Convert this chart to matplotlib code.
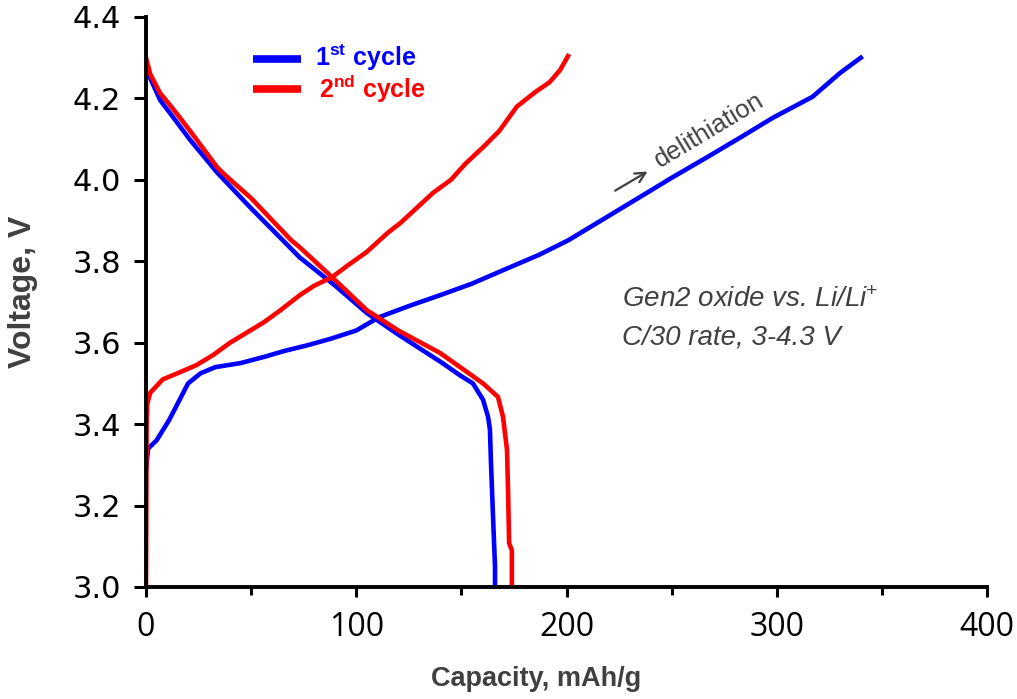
import matplotlib
matplotlib.use("Agg")
import matplotlib.pyplot as plt

plt.rcParams['mathtext.fontset'] = 'custom'
plt.rcParams['mathtext.rm'] = 'Liberation Sans'
plt.rcParams['mathtext.it'] = 'Liberation Sans:italic'
plt.rcParams['mathtext.bf'] = 'Liberation Sans:bold'

# 1st cycle, charge (delithiation)
cap1_ch = [0, 1, 5, 11, 15, 20, 26, 33, 45, 56, 66, 77, 88, 100, 111, 125, 140,
           155, 168, 187, 201, 218, 235, 250, 267, 283, 298, 317, 330, 336, 340]
v1_ch = [3.29, 3.34, 3.36, 3.41, 3.45, 3.50, 3.525, 3.54, 3.55, 3.565, 3.58, 3.594,
         3.61, 3.63, 3.663, 3.69, 3.717, 3.745, 3.774, 3.816, 3.852, 3.905, 3.958,
         4.005, 4.056, 4.105, 4.152, 4.204, 4.262, 4.285, 4.30]

# 1st cycle, discharge
cap1_dis = [0, 2, 6.7, 12, 21, 34, 50, 65, 73, 90, 105, 120, 141, 149.3, 155.5,
            160.3, 162.7, 163.6, 164, 165, 166, 166]
v1_dis = [4.277, 4.25, 4.196, 4.16, 4.098, 4.017, 3.93, 3.852, 3.81, 3.74, 3.673,
          3.62, 3.55, 3.52, 3.50, 3.46, 3.418, 3.386, 3.317, 3.18, 3.05, 3.0]

# 2nd cycle, charge
cap2_ch = [0, 0.3, 0.6, 2, 8, 15, 24, 32, 40, 48, 56, 64, 73.2, 80, 88.5, 96, 105,
           115, 121, 136.5, 145, 152, 160.3, 168, 176.4, 185, 192, 197, 200.7]
v2_ch = [3.0, 3.40, 3.45, 3.477, 3.51, 3.525, 3.545, 3.57, 3.60, 3.625, 3.65, 3.68,
         3.717, 3.74, 3.761, 3.79, 3.823, 3.87, 3.894, 3.968, 4.0, 4.04, 4.08, 4.12,
         4.18, 4.215, 4.24, 4.27, 4.304]

# 2nd cycle, discharge
cap2_dis = [0, 2, 6.7, 12, 21, 34, 38, 50, 69, 73, 88.5, 105, 120, 139.8, 152.7,
            160.3, 167.4, 169.8, 171.7, 172.2, 172.7, 174, 174]
v2_dis = [4.30, 4.26, 4.213, 4.18, 4.12, 4.03, 4.01, 3.955, 3.852, 3.835, 3.761,
          3.68, 3.63, 3.575, 3.528, 3.50, 3.467, 3.418, 3.337, 3.238, 3.108, 3.09, 3.0]

x_ticks = [0, 100, 200, 300, 400]
y_ticks = [3.0, 3.2, 3.4, 3.6, 3.8, 4.0, 4.2, 4.4]

blue = '#0000ff'
red = '#ff0000'
gray = '#404040'

fig = plt.figure(figsize=(10.17, 6.99), dpi=100)
ax = fig.add_axes([146 / 1017, 1 - 587 / 699, 841 / 1017, 570 / 699])

lw = 3.3
ax.plot(cap1_ch, v1_ch, color=blue, lw=lw, solid_joinstyle='round')
ax.plot(cap1_dis, v1_dis, color=blue, lw=lw, solid_joinstyle='round')
ax.plot(cap2_ch, v2_ch, color=red, lw=lw, solid_joinstyle='round')
ax.plot(cap2_dis, v2_dis, color=red, lw=lw, solid_joinstyle='round')

ax.set_xlim(0, 400)
ax.set_ylim(3.0, 4.4)
ax.set_xticks(x_ticks)
ax.set_xticks([50, 150, 250, 350], minor=True)
ax.set_yticks(y_ticks)
ax.set_xticklabels([str(t) for t in x_ticks], fontsize=23, family='Open Sans')
ax.set_yticklabels([f'{t:.1f}' for t in y_ticks], fontsize=22, family='DejaVu Sans')

for s in ['top', 'right']:
    ax.spines[s].set_visible(False)
for s in ['left', 'bottom']:
    ax.spines[s].set_linewidth(2.8)
ax.tick_params(axis='y', direction='out', length=9, width=2.2, pad=9)
ax.tick_params(axis='x', which='major', direction='out', length=7, width=2.2, pad=10)
ax.tick_params(axis='x', which='minor', direction='out', length=6, width=2.2)

ax.set_xlabel('Capacity, mAh/g', fontsize=19.5, fontweight='bold', color=gray,
              family='Liberation Sans')
ax.xaxis.set_label_coords(0.464, -0.138)
ax.set_ylabel('Voltage, V', fontsize=23, fontweight='bold', color=gray,
              family='Liberation Sans')
ax.yaxis.set_label_coords(-0.128, 0.517)

# legend drawn by hand
ax.plot([0.127, 0.184], [0.926, 0.926], color=blue, lw=5.5, transform=ax.transAxes,
        solid_capstyle='butt')
ax.plot([0.127, 0.184], [0.874, 0.874], color=red, lw=5.5, transform=ax.transAxes,
        solid_capstyle='butt')
ax.text(0.201, 0.928, r'1$^{\mathbf{st}}$ cycle', transform=ax.transAxes, color=blue,
        fontsize=18, fontweight='bold', family='Liberation Sans', va='center')
ax.text(0.206, 0.873, r'2$^{\mathbf{nd}}$ cycle', transform=ax.transAxes, color=red,
        fontsize=18, fontweight='bold', family='Liberation Sans', va='center')

# annotations
ax.annotate('', xy=(239.7, 4.024), xytext=(222, 3.97),
            arrowprops=dict(arrowstyle='->', color=gray, lw=1.6, mutation_scale=18))
ax.text(244.5, 4.028, 'delithiation', rotation=31, rotation_mode='anchor', color=gray,
        fontsize=18.5, family='Liberation Sans', ha='left', va='baseline')
ax.text(226.4, 3.705, r'Gen2 oxide vs. Li/Li$^{+}$', color=gray, fontsize=20,
        style='italic', family='Liberation Sans', ha='left', va='center')
ax.text(226.4, 3.614, 'C/30 rate, 3-4.3 V', color=gray, fontsize=20,
        style='italic', family='Liberation Sans', ha='left', va='center')

fig.savefig('out.png', dpi=100)
